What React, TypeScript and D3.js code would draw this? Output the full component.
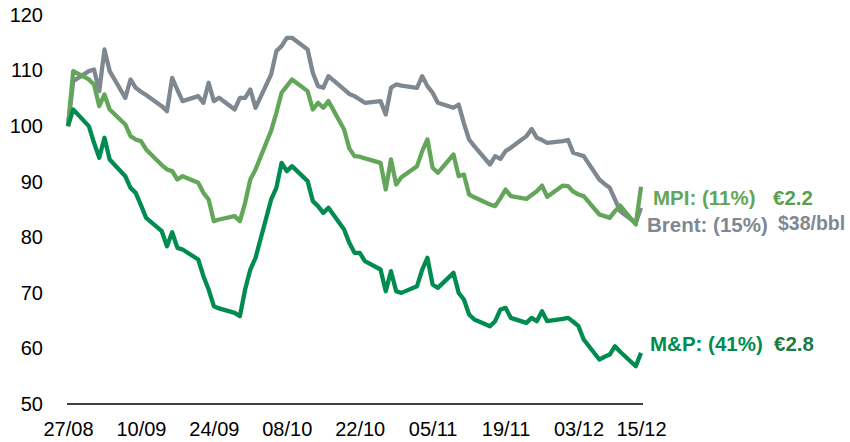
import React, { useEffect, useRef } from 'react';
import * as d3 from 'd3';

// trading days, 2015
const dates = [
  '27/08', '28/08', '31/08',
  '01/09', '02/09', '03/09', '04/09', '07/09', '08/09', '09/09', '10/09', '11/09', '14/09', '15/09',
  '16/09', '17/09', '18/09', '21/09', '22/09', '23/09', '24/09', '25/09', '28/09', '29/09', '30/09',
  '01/10', '02/10', '05/10', '06/10', '07/10', '08/10', '09/10', '12/10', '13/10', '14/10', '15/10',
  '16/10', '19/10', '20/10', '21/10', '22/10', '23/10', '26/10', '27/10', '28/10', '29/10', '30/10',
  '02/11', '03/11', '04/11', '05/11', '06/11', '09/11', '10/11', '11/11', '12/11', '13/11', '16/11',
  '17/11', '18/11', '19/11', '20/11', '23/11', '24/11', '25/11', '26/11', '27/11', '30/11',
  '01/12', '02/12', '03/12', '04/12', '07/12', '08/12', '09/12', '10/12', '11/12', '14/12', '15/12',
];

const brent = [
  100, 108.1, 109.9,
  110.2, 106.3, 113.8, 109.9, 105.1, 108.4, 106.9, 106.2, 105.6, 103.6, 102.7,
  108.7, 106.5, 104.5, 105.4, 104.2, 107.8, 104.5, 105.1, 103, 105.1, 105.1,
  106.6, 103.3, 109.3, 113.5, 114.4, 115.9, 115.9, 113.8, 109.6, 107.2, 106.9,
  109, 106.6, 105.8, 105.4, 104.8, 104.2, 104.5, 102.1, 106.9, 107.5, 107.3,
  106.9, 109, 107.2, 106, 104.2, 103.3, 103.9, 100.5, 97.6, 96.4, 93.1,
  94.6, 94.1, 95.5, 96.1, 98.2, 99.5, 97.9, 97.5, 97, 97.3,
  97.5, 95.2, 94.9, 94.6, 90.4, 89.6, 88.9, 86.8, 84.7, 82.6, 85.3,
];

const mpi = [
  100, 109.9, 108.4,
  107.5, 103.6, 105.7, 103, 100.3, 98.2, 97.6, 97.3, 95.8, 93, 92.2,
  91.9, 90.4, 91, 89.8, 88, 86.8, 82.9, 83.2, 83.8, 82.9, 86.2,
  90.4, 92.2, 99.2, 102.4, 106, 107.2, 108.4, 106.3, 103, 104.2, 103.3,
  104.5, 99.4, 96, 94.6, 94.5, 94.2, 93.4, 88.6, 94, 89.5, 90.8,
  92.8, 95.5, 97.6, 92.5, 91.6, 94.9, 91, 91.3, 87.7, 87.2, 85.9,
  85.6, 87, 88.6, 87.4, 86.9, 87.6, 88.3, 89.3, 87.3, 89.3,
  89.2, 88.2, 87.7, 87.4, 84.1, 83.8, 83.5, 84.7, 85.7, 82.3, 89.1,
];

const mp = [
  100, 103, 100,
  97, 94.3, 97.9, 94, 91, 88.9, 88, 85.8, 83.5, 81.1, 78.4,
  80.9, 78.1, 77.8, 76, 73, 70.6, 67.6, 67.2, 66.4, 65.8, 70.6,
  74.2, 76.3, 86.8, 88.9, 93.4, 91.9, 92.8, 90.1, 86.5, 85.6, 84.4,
  85.3, 81.4, 79, 77.2, 77.2, 75.7, 74.2, 70.3, 73.9, 70.3, 70,
  71.2, 74.2, 76.3, 71.5, 70.9, 73.6, 70, 68.8, 66.1, 65.2, 64,
  64.9, 67, 67.3, 65.5, 64.6, 65.5, 64.9, 66.7, 64.9, 65.3,
  65.5, 64.8, 64, 61.6, 58, 58.5, 58.9, 60.4, 59.4, 56.8, 59.2,
];

const xTicks = ['27/08', '10/09', '24/09', '08/10', '22/10', '05/11', '19/11', '03/12', '15/12'];
const yTicks = [50, 60, 70, 80, 90, 100, 110, 120];

const parse = (s: string) => d3.utcParse('%d/%m/%Y')(s + '/2015') as Date;

const App: React.FC = () => {
  const ref = useRef<SVGSVGElement | null>(null);

  useEffect(() => {
    const svg = d3.select(ref.current);
    svg.selectAll('*').remove();

    const width = 850;
    const height = 442;
    const font = '"Liberation Sans", Arial, sans-serif';

    const x = d3
      .scaleUtc()
      .domain([parse('27/08'), parse('15/12')])
      .range([68, 641]);

    const y = d3.scaleLinear().domain([50, 120]).range([404, 15]);

    svg.attr('width', width).attr('height', height);

    // y axis labels
    const ya = svg
      .append('g')
      .attr('transform', 'translate(67,0)')
      .call(d3.axisLeft(y).tickValues(yTicks).tickSize(0).tickPadding(24).tickFormat(d3.format('d')));
    ya.select('.domain').remove();
    ya.selectAll('text').attr('font-size', 20).attr('font-family', font).attr('fill', '#000');

    // x axis
    const xa = svg
      .append('g')
      .attr('transform', 'translate(0,404)')
      .call(d3.axisBottom(x).tickValues(xTicks.map(parse)).tickSize(0).tickFormat(d3.utcFormat('%d/%m') as any));
    xa.select('.domain').remove();
    xa.selectAll('text')
      .attr('y', 32)
      .attr('dy', null)
      .attr('font-size', 20)
      .attr('font-family', font)
      .attr('fill', '#000');
    svg
      .append('line')
      .attr('x1', 67)
      .attr('x2', 643)
      .attr('y1', 404)
      .attr('y2', 404)
      .attr('stroke', '#000')
      .attr('stroke-width', 1.5);

    const series = [
      { values: brent, color: '#7f8890' },
      { values: mpi, color: '#63a65a' },
      { values: mp, color: '#008c50' },
    ];

    const line = d3
      .line<number>()
      .x((_, i) => x(parse(dates[i])))
      .y(d => y(d));

    svg
      .append('g')
      .selectAll('path')
      .data(series)
      .join('path')
      .attr('d', d => line(d.values))
      .attr('fill', 'none')
      .attr('stroke', d => d.color)
      .attr('stroke-width', 4.3)
      .attr('stroke-linejoin', 'round');

    const labels = [
      { text: 'MPI: (11%)', x: 653, y: 205, size: 20.5, color: '#63a65a' },
      { text: '€2.2', x: 773, y: 205, size: 20.5, color: '#5a9f50' },
      { text: 'Brent: (15%)', x: 647, y: 232, size: 20.5, color: '#7f8890' },
      { text: '$38/bbl', x: 778, y: 230, size: 19.5, color: '#7f8890' },
      { text: 'M&P: (41%)', x: 650, y: 351, size: 20.5, color: '#008c50' },
      { text: '€2.8', x: 774, y: 351, size: 20.5, color: '#1b7a45' },
    ];

    svg
      .append('g')
      .selectAll('text')
      .data(labels)
      .join('text')
      .attr('x', d => d.x)
      .attr('y', d => d.y)
      .attr('font-size', d => d.size)
      .attr('font-weight', 'bold')
      .attr('font-family', font)
      .attr('fill', d => d.color)
      .text(d => d.text);
  }, []);

  return <svg ref={ref} style={{ position: 'absolute', left: 0, top: 0 }}></svg>;
};

export default App;
